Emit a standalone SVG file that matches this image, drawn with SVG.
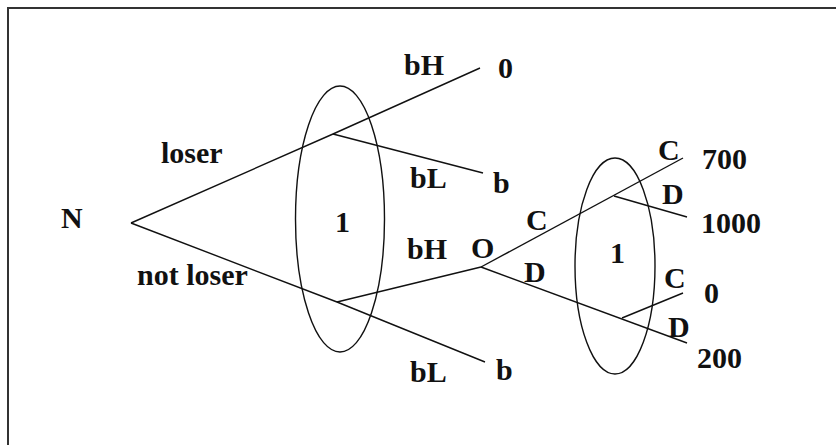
<svg xmlns="http://www.w3.org/2000/svg" width="836" height="445" viewBox="0 0 836 445">
<style>
.e{fill:none;stroke:#111;stroke-width:1.4}
.t{font-family:"Liberation Serif","Times New Roman",serif;font-weight:bold;font-size:30px;fill:#111}
</style>
<rect width="836" height="445" fill="#fff"/>
<path d="M8,445 V8 H836" fill="none" stroke="#333" stroke-width="2"/>
<g id="connectors" class="e">
<path d="M131,223 L333,134 L480,68"/>
<path d="M333,134 L483,173"/>
<path d="M131,223 L337,302 L485,362"/>
<path d="M337,302 L481,267"/>
<path d="M481,267 L683,158"/>
<path d="M614,196 L687,217"/>
<path d="M481,267 L687,343"/>
<path d="M622,318 L683,293"/>
</g>
<g id="node-N"><text class="t" x="61" y="228">N</text></g>
<g id="infoset-1"><ellipse class="e" cx="340" cy="219" rx="44.5" ry="133"/><text class="t" x="335" y="232">1</text></g>
<g id="node-O"><text class="t" x="471" y="258">O</text></g>
<g id="infoset-2"><ellipse class="e" cx="615" cy="266" rx="40" ry="108"/><text class="t" x="610" y="263">1</text></g>
<g id="labels">
<text class="t" x="161" y="163">loser</text>
<text class="t" x="137" y="285">not loser</text>
<text class="t" x="404" y="75">bH</text>
<text class="t" x="498" y="78">0</text>
<text class="t" x="410" y="188">bL</text>
<text class="t" x="493" y="193">b</text>
<text class="t" x="407" y="259">bH</text>
<text class="t" x="410" y="382">bL</text>
<text class="t" x="496" y="380">b</text>
<text class="t" x="526" y="230">C</text>
<text class="t" x="524" y="282">D</text>
<text class="t" x="658" y="160">C</text>
<text class="t" x="702" y="169">700</text>
<text class="t" x="662" y="204">D</text>
<text class="t" x="701" y="233">1000</text>
<text class="t" x="664" y="288">C</text>
<text class="t" x="704" y="303">0</text>
<text class="t" x="668" y="337">D</text>
<text class="t" x="697" y="368">200</text>
</g>
</svg>
